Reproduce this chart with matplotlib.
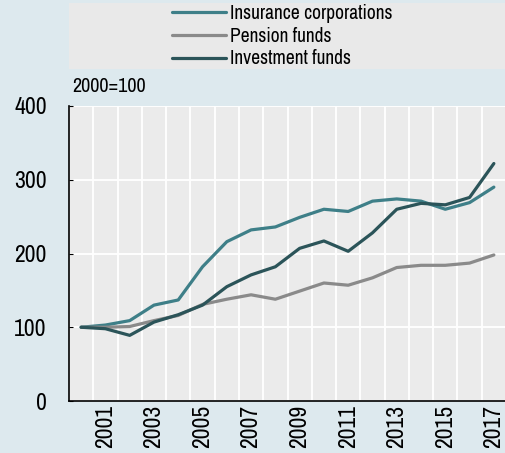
import numpy as np
import matplotlib.pyplot as plt

plt.rcParams['font.family'] = ['Archivo Narrow', 'Liberation Sans', 'DejaVu Sans']

years = np.arange(2000, 2018)
insurance = [100, 103, 109, 130, 137, 182, 216, 232, 236, 249, 260, 257, 271, 274, 271, 260, 269, 290]
pension = [100, 100, 101, 109, 116, 131, 138, 144, 138, 149, 160, 157, 167, 181, 184, 184, 187, 198]
investment = [100, 98, 89, 107, 117, 130, 155, 171, 182, 207, 217, 203, 228, 260, 268, 266, 276, 322]
tick_years = years[1::2]

bg = '#dde9ee'
fig = plt.figure(figsize=(5.06, 4.53), dpi=100, facecolor=bg)
ax = fig.add_axes([69 / 506, 1 - 401 / 453, 1 - 69 / 506, 295 / 453])
ax.set_facecolor('#ebebeb')

ax.plot(years, insurance, color='#3e7f88', lw=2.3, label='Insurance corporations', solid_capstyle='round')
ax.plot(years, pension, color='#8a8a8a', lw=2.3, label='Pension funds', solid_capstyle='round')
ax.plot(years, investment, color='#2b5459', lw=2.3, label='Investment funds', solid_capstyle='round')

ax.set_xlim(1999.5, 2017.5)
ax.set_ylim(0, 400)
ax.set_yticks([0, 100, 200, 300, 400])
ax.set_xticks(tick_years)
ax.set_xticklabels([str(y) for y in tick_years], rotation=90)
ax.set_xticks(np.arange(1999.5, 2017.6, 1), minor=True)
ax.grid(axis='x', which='minor', color='white', lw=1.3)
ax.grid(axis='y', which='major', color='white', lw=1.3)
ax.set_axisbelow(True)
ax.tick_params(axis='x', which='both', length=0, labelsize=17, pad=3)
ax.tick_params(axis='y', direction='in', length=3, labelsize=17, pad=16)
for s in ['top', 'right']:
    ax.spines[s].set_visible(False)
for s in ['left', 'bottom']:
    ax.spines[s].set_color('black')
    ax.spines[s].set_linewidth(1.2)

fig.text(72 / 506, 1 - 86 / 453, '2000=100', fontsize=14.5, va='center', ha='left')

# legend box
lax = fig.add_axes([69 / 506, 1 - 69 / 453, 1 - 69 / 506, 66 / 453])
lax.set_facecolor('#e9e9e9')
lax.set_xticks([])
lax.set_yticks([])
for s in lax.spines.values():
    s.set_visible(False)
handles, labels = ax.get_legend_handles_labels()
lax.legend(handles, labels, loc='center left', bbox_to_anchor=(0.235, 0.5), frameon=False,
           fontsize=14, handlelength=2.8, handletextpad=0.2, labelspacing=0.2,
           borderaxespad=0, borderpad=0)

fig.savefig('out.png', dpi=100, facecolor=bg)
